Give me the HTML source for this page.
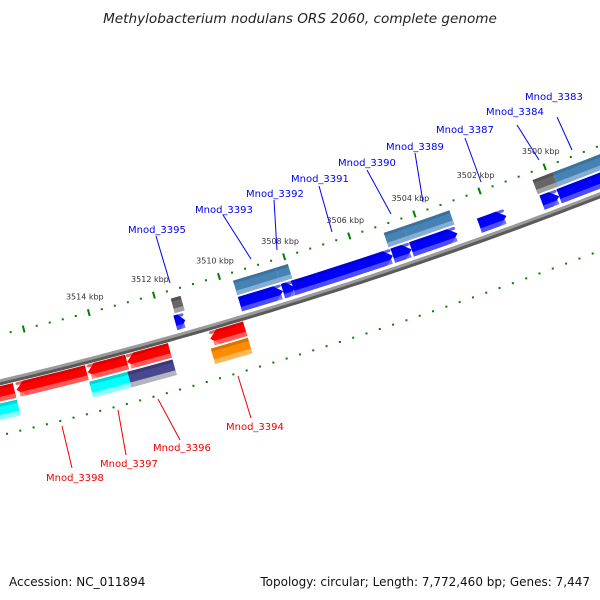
<!DOCTYPE html>
<html><head><meta charset="utf-8"><style>
html,body{margin:0;padding:0;background:#fff;}
svg{display:block;font-family:"DejaVu Sans","Liberation Sans",sans-serif;}
</style></head><body>
<svg id="chart" width="600" height="600" viewBox="0 0 600 600" xmlns="http://www.w3.org/2000/svg">
<text x="300" y="23" text-anchor="middle" font-size="13.6" font-style="italic" fill="#222">Methylobacterium nodulans ORS 2060, complete genome</text>
<g id="ticks"></g>
<g id="backbone"></g>
<g id="genes"></g>
<g id="labels"></g>
<text x="9" y="586" font-size="12" fill="#111">Accession: NC_011894</text>
<text x="590" y="586" text-anchor="end" font-size="12" fill="#111">Topology: circular; Length: 7,772,460 bp; Genes: 7,447</text>
</svg>
<script>
// data (kbp)
const majorTicksUpper = [3498,3500,3502,3504,3506,3508,3510,3512,3514,3516];
const tickLabels = ["","3500 kbp","3502 kbp","3504 kbp","3506 kbp","3508 kbp","3510 kbp","3512 kbp","3514 kbp",""];
const majorTicksLower = [3497,3499,3501,3503,3505,3507,3509,3511,3513,3515,3517];
const geneLeft  = [3511.61,3509.64,3508.33,3508.02,3504.98,3504.41,3502.34,3500.43,3499.91, 3511.55,3509.64,3508.33,3505.02,3504.41,3500.46,3499.85, 3518.27,3516.63,3514.47,3513.28,3510.76, 3518.27,3514.50,3513.34,3510.82];
const geneRight = [3511.31,3508.33,3507.96,3504.98,3504.41,3503.01,3501.52,3499.91,3497.60, 3511.25,3508.33,3507.96,3504.41,3503.01,3499.85,3497.60, 3516.69,3514.50,3513.28,3511.98,3509.70, 3516.69,3513.28,3511.98,3509.70];
const geneRow   = [1,1,1,1,1,1,1,1,1, 2,2,2,2,2,2,2, -1,-1,-1,-1,-1, -2,-2,-2,-2];
const geneColor = ["blue","blue","blue","blue","blue","blue","blue","blue","blue","gray","steel","steel","steel","steel","gray","steel","red","red","red","red","red","cyan","cyan","purple","orange"];
const geneArrow = [1,1,1,1,1,1,1,1,1, 0,0,0,0,0,0,0, -1,-1,-1,-1,-1, 0,0,0,0];
const labelNames = ["Mnod_3383","Mnod_3384","Mnod_3387","Mnod_3389","Mnod_3390","Mnod_3391","Mnod_3392","Mnod_3393","Mnod_3395","Mnod_3394","Mnod_3396","Mnod_3397","Mnod_3398"];
const labelStrand = [1,1,1,1,1,1,1,1,1,-1,-1,-1,-1];

const NS="http://www.w3.org/2000/svg";
function kx(k){return 561-(k-3500)*32.9;}
function yb(x){return 382-0.235*x-1.278e-4*x*x;}
function P(x0,d){const yp=-0.235-2.556e-4*x0;const L=Math.sqrt(1+yp*yp);return [x0+d*yp/L, yb(x0)-d/L];}
function mk(tag,attrs,parent){const e=document.createElementNS(NS,tag);for(const k in attrs)e.setAttribute(k,attrs[k]);parent.appendChild(e);return e;}
const rows={1:[6,21],2:[23,38],"-1":[-19,-4],"-2":[-37,-21]};
const cols={blue:["#0000ff","#0000c8","#5a5aff"],steel:["#4682b4","#35668f","#8fb6d8"],gray:["#666","#444","#aaa"],red:["#ff0000","#c80000","#ff6a6a"],cyan:["#00ffff","#00bcbc","#9affff"],orange:["#ff8c00","#c06800","#ffbd66"],purple:["#48488c","#303070","#c8c8c8"]};

// backbone
const bb=document.getElementById('backbone');
function curve(d,x1,x2){let pts=[];for(let x=x1;x<=x2;x+=10){const p=P(x,d);pts.push(p[0].toFixed(1)+","+p[1].toFixed(1));}return pts.join(" ");}
let l1=mk('polyline',{points:curve(-1.5,-30,640),fill:'none',stroke:'#5a5a5a','stroke-width':3.5},bb);


let l2=mk('polyline',{points:curve(1.2,-30,640),fill:'none',stroke:'#9a9a9a','stroke-width':3},bb);



// ticks
const tg=document.getElementById('ticks');
function ruler(d,majors,withLabels){
  for(let k=3497.2;k<=3518.4;k=+(k+0.4).toFixed(1)){
    const x0=kx(k); if(x0<-10||x0>620) continue;
    const isMajor=majors.some(m=>Math.abs(m-k)<0.05);
    if(isMajor){
      const a=P(x0,d-3.5),b=P(x0,d+3.5);
      const t=mk('line',{x1:a[0],y1:a[1],x2:b[0],y2:b[1],stroke:'#008000','stroke-width':2},tg);
      
      
    }else{
      const p=P(x0,d);
      const t=mk('rect',{x:p[0]-1,y:p[1]-1,width:2,height:2,fill:'#008000'},tg);
      
      
    }
  }
  if(withLabels){
    majors.forEach((m,i)=>{
      if(!tickLabels[i])return;
      const p=P(kx(m),d);
      const t=mk('text',{x:p[0]-4,y:p[1]-13,'text-anchor':'middle','font-size':8,fill:'#333'},tg);
      t.textContent=tickLabels[i];
      
      
    });
  }
}
ruler(46,majorTicksUpper,true);
ruler(-52,majorTicksLower,false);

// genes
const gg=document.getElementById('genes');
function poly(xa,xb,d1,d2,dir,head){
  const pts=[];const n=Math.max(2,Math.ceil((xb-xa)/20));
  const dm=(d1+d2)/2;
  let bA=xa,bB=xb;
  if(dir===1)bB=Math.max(xa,xb-head);
  if(dir===-1)bA=Math.min(xb,xa+head);
  for(let i=0;i<=n;i++){pts.push(P(bA+(bB-bA)*i/n,d2));}
  if(dir===1)pts.push(P(xb,dm));
  for(let i=n;i>=0;i--){pts.push(P(bA+(bB-bA)*i/n,d1));}
  if(dir===-1)pts.push(P(xa,dm));
  return pts.map(p=>p[0].toFixed(1)+","+p[1].toFixed(1)).join(" ");
}
geneLeft.forEach((kl,i)=>{
  const xa=kx(kl),xb=kx(geneRight[i]);
  const r=rows[geneRow[i]];const d1=r[0],d2=r[1];const h=d2-d1;
  const c=cols[geneColor[i]];const dir=geneArrow[i];
  const g=mk('g',{},gg);
  
  
  const head=Math.min(8,(xb-xa)*0.6);
  mk('polygon',{points:poly(xa,xb,d1,d2,dir,head),fill:c[0]},g);
  mk('polygon',{points:poly(xa,xb,d2-h*0.2,d2,dir,head*0.2),fill:c[1],opacity:0.6},g);
  mk('polygon',{points:poly(xa+(dir===-1?head*0.3:0),xb-(dir===1?head*0.3:0),d1,d1+h*0.3,0,0),fill:c[2],opacity:0.85},g);
});

// gene labels
const lg=document.getElementById('labels');
const lpos=[[525,100,557,117,572,150],[486,115,517,125,539,160],[436,133,465,138,481,182],[386,150,415,153,423,202],[338,166,367,170,391,214],[291,182,319,186,332,232],[246,197,274,200,277,250],[195,213,223,215,251,259],[128,233,156,236,170,283],
            [226,430,251,418,238,376],[153,451,180,440,158,399],[100,467,126,455,118,410],[46,481,72,468,62,426]];
labelNames.forEach((nm,i)=>{
  const q=lpos[i];const col=labelStrand[i]>0?'#0000ee':'#ee0000';
  const ln=mk('line',{x1:q[2],y1:q[3],x2:q[4],y2:q[5],stroke:col,'stroke-width':1},lg);
  
  
  const t=mk('text',{x:q[0],y:q[1],'font-size':10,fill:col},lg);
  t.textContent=nm;
  
  
});
</script>
</body></html>
